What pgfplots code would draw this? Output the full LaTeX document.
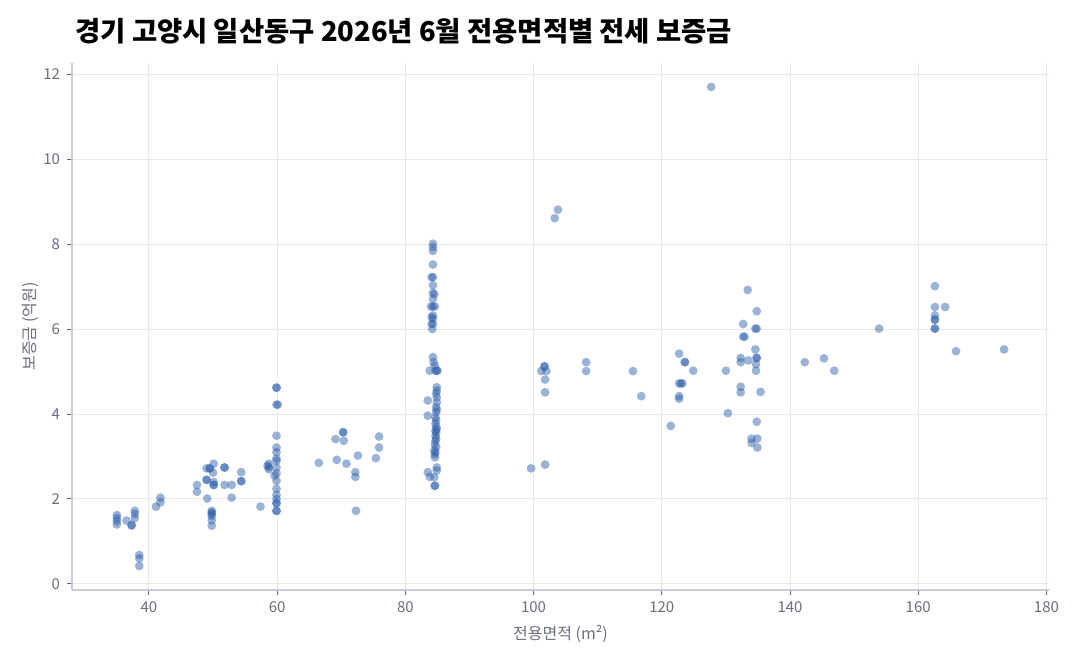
\documentclass[border=0pt]{standalone}
\usepackage{fontspec}
\setmainfont{Noto Sans CJK KR}
\usepackage{pgfplots}
\pgfplotsset{compat=1.18}

\definecolor{ptcol}{RGB}{43,93,170}
\definecolor{gridc}{RGB}{232,232,234}
\definecolor{axiscol}{RGB}{200,204,214}
\definecolor{tickcol}{RGB}{95,100,115}
\definecolor{labcol}{RGB}{105,110,125}

\begin{document}
\begin{tikzpicture}
  % page = 1080 x 660 px at 0.5pt per px, axis box at (72,590) px
  \path[use as bounding box] (-36pt,-35pt) rectangle (504pt,295pt);
  \begin{axis}[
    at={(0,0)}, anchor=south west,
    scale only axis,
    width=488.5pt, height=263.5pt,
    xmin=28, xmax=180.4,
    ymin=-0.144, ymax=12.264,
    xtick={40,60,...,180},
    ytick={0,2,...,12},
    grid=major,
    major grid style={color=gridc, line width=0.45pt},
    axis x line*=bottom, axis y line*=left,
    axis line style={axiscol, line width=0.6pt},
    tick align=outside,
    major tick length=2.5pt,
    tick style={tickcol, line width=0.5pt},
    /pgf/number format/assume math mode=true,
    tick label style={font=\fontsize{7.5}{9}\selectfont, text=labcol},
    xlabel={전용면적 (m²)},
    ylabel={보증금 (억원)},
    label style={font=\fontsize{8}{10}\selectfont, text=labcol},
    xlabel style={at={(axis description cs:0.5,-0.0835)}, anchor=center},
    ylabel style={at={(axis description cs:-0.043,0.5)}, anchor=center},
  ]
    \addplot[only marks, mark=*, mark size=2.2pt, color=ptcol,
      mark options={fill=ptcol, draw opacity=0, fill opacity=0.47}] coordinates {
      (35.0,1.40) (35.0,1.48) (35.0,1.55) (35.0,1.62)
      (36.5,1.49) (37.3,1.38) (37.3,1.38)
      (37.8,1.72) (37.8,1.65) (37.8,1.55)
      (38.5,0.68) (38.5,0.60) (38.5,0.42)
      (41.1,1.82) (41.8,2.03) (41.8,1.92)
      (47.5,2.33) (47.5,2.17) (49.1,2.01)
      (49.0,2.72) (49.5,2.72) (49.5,2.72)
      (50.1,2.83) (50.0,2.62) (49.0,2.45) (49.0,2.45)
      (50.1,2.40) (50.1,2.33) (50.1,2.33)
      (49.8,1.72) (49.8,1.68) (49.8,1.65) (49.8,1.60) (49.8,1.50) (49.8,1.37)
      (51.8,2.74) (51.8,2.74) (51.8,2.33) (52.9,2.33) (52.9,2.03)
      (54.4,2.63) (54.4,2.42) (54.4,2.42)
      (57.4,1.82)
      (58.7,2.83) (58.7,2.75) (58.7,2.70) (58.5,2.78)
      (59.9,4.62) (59.9,4.62) (59.9,4.22) (60.1,4.22) (59.9,3.49)
      (59.9,3.21) (59.9,3.10) (59.9,2.95) (59.9,2.90) (59.9,2.74)
      (59.9,2.60) (59.6,2.55) (59.9,2.43) (59.9,2.24) (59.9,2.10)
      (59.9,2.00) (59.9,1.90) (59.9,1.90) (59.9,1.72) (59.9,1.72)
      (66.5,2.85)
      (69.1,3.41) (70.3,3.57) (70.3,3.57) (70.4,3.37) (69.3,2.92) (70.8,2.83)
      (72.6,3.02) (72.2,2.63) (72.2,2.52) (72.3,1.72)
      (75.4,2.96) (75.9,3.47) (75.9,3.21)
      (84.3,8.01) (84.3,7.93) (84.3,7.84) (84.3,7.52) (84.3,7.22) (84.1,7.22)
      (84.3,7.03) (84.3,6.85) (84.5,6.82) (84.3,6.71) (84.0,6.53) (84.3,6.53)
      (84.6,6.53) (84.3,6.32) (84.1,6.28) (84.3,6.24) (84.1,6.12) (84.3,6.12)
      (84.2,6.00)
      (84.3,5.34) (84.4,5.22) (84.6,5.14) (84.9,5.02) (85.0,5.02) (84.7,5.02)
      (83.8,5.02)
      (84.9,4.63) (84.9,4.55) (84.8,4.48) (84.9,4.39) (83.5,4.32) (84.9,4.28)
      (84.8,4.16) (84.9,4.10) (84.8,4.04) (83.5,3.96) (84.7,3.92) (84.8,3.85)
      (84.7,3.77) (84.8,3.69) (84.9,3.65) (84.7,3.60) (84.8,3.57) (84.7,3.49)
      (84.8,3.42) (84.7,3.37) (84.6,3.29) (84.8,3.22) (84.5,3.14) (84.7,3.10)
      (84.6,3.05) (84.6,2.98) (84.9,2.74) (84.9,2.67) (83.5,2.63) (83.8,2.52)
      (84.5,2.51) (84.6,2.31) (84.6,2.31)
      (99.6,2.72) (101.8,2.81) (101.7,5.12) (101.7,5.12) (101.2,5.01)
      (102.0,5.01) (101.8,4.81) (101.8,4.51) (103.3,8.61) (103.8,8.81)
      (108.2,5.22) (108.2,5.01) (115.5,5.01) (116.8,4.42) (121.4,3.72)
      (122.7,5.42) (123.6,5.22) (123.6,5.22) (124.9,5.02)
      (122.7,4.72) (123.2,4.72) (123.0,4.72) (122.7,4.42) (122.7,4.36)
      (127.7,11.70) (130.0,5.02) (130.3,4.02)
      (133.4,6.92) (134.8,6.42) (132.7,6.12) (134.6,6.01) (134.8,6.01)
      (132.7,5.82) (132.9,5.82) (134.6,5.52) (132.3,5.32) (132.3,5.22)
      (133.5,5.26) (134.8,5.32) (134.8,5.32) (134.7,5.17) (134.7,5.02)
      (132.3,4.64) (132.3,4.51) (135.4,4.52) (134.8,3.82)
      (134.0,3.42) (134.0,3.32) (134.9,3.42) (134.9,3.21)
      (142.3,5.22) (145.3,5.31) (146.9,5.02) (153.9,6.01)
      (162.6,7.01) (162.6,6.52) (164.2,6.52) (162.6,6.32) (162.6,6.22)
      (162.6,6.22) (162.6,6.01) (162.6,6.01) (165.9,5.48) (173.4,5.52)
    };
  \end{axis}
  \node[anchor=base west, inner sep=0pt, font=\fontsize{13.7}{16}\selectfont\bfseries]
    at (1.5pt,274pt) {경기 고양시 일산동구 2026년 6월 전용면적별 전세 보증금};
\end{tikzpicture}
\end{document}
